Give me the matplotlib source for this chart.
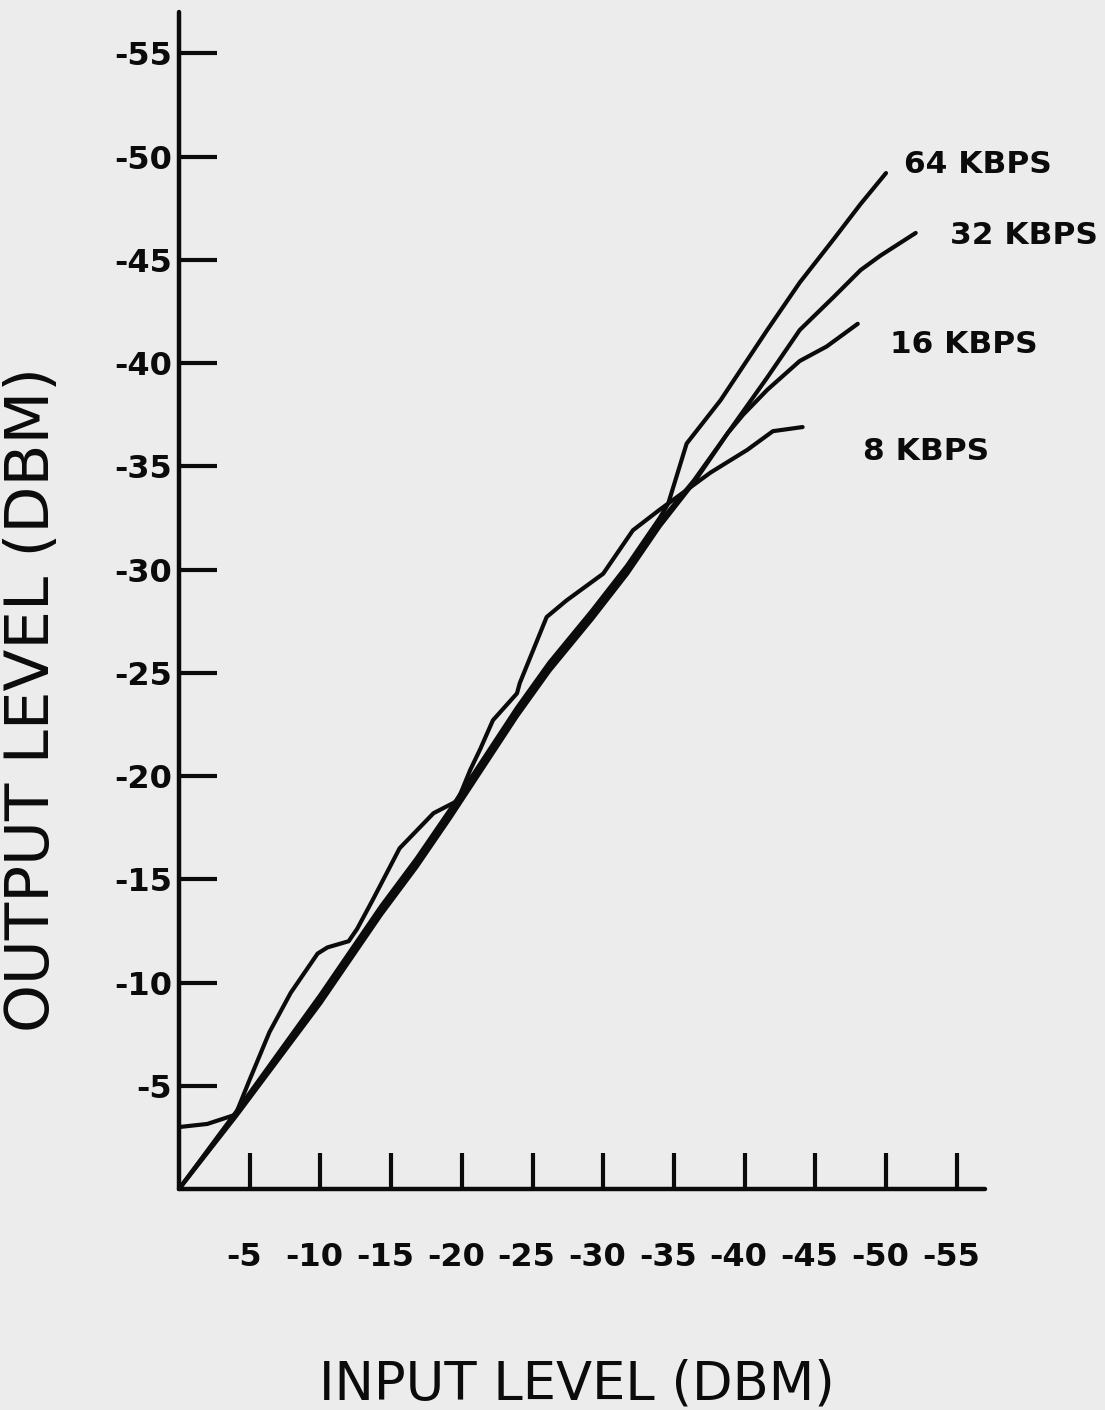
import matplotlib
matplotlib.use("Agg")
import matplotlib.pyplot as plt
from matplotlib.ticker import FixedLocator, NullLocator
from matplotlib.transforms import ScaledTranslation

# ---------------- data (dBm) ----------------
tick_values = [-5, -10, -15, -20, -25, -30, -35, -40, -45, -50, -55]
tick_labels = ["-5", "-10", "-15", "-20", "-25", "-30", "-35", "-40", "-45", "-50", "-55"]

in_64 = [0, -4.0, -10.0, -14.3, -16.8, -19.2, -21.5, -23.9, -26.2, -29.2, -31.7, -34.0,
         -34.6, -35.9, -38.3, -41.6, -43.9, -46.3, -48.2, -50.0]
out_64 = [0, -3.7, -9.4, -13.7, -16.0, -18.4, -20.8, -23.3, -25.5, -28.0, -30.2, -32.5,
          -33.2, -36.1, -38.2, -41.6, -43.9, -46.0, -47.7, -49.2]

in_32 = [0, -4.0, -10.0, -14.3, -16.8, -19.2, -21.5, -23.9, -26.2, -29.2, -31.7, -34.0,
         -36.4, -38.8, -41.6, -43.9, -46.3, -48.2, -49.6, -52.1]
out_32 = [0, -3.6, -9.2, -13.5, -15.8, -18.2, -20.6, -23.1, -25.3, -27.8, -30.0, -32.3,
          -34.3, -36.6, -39.3, -41.6, -43.2, -44.5, -45.2, -46.3]

in_16 = [0, -4.0, -10.0, -14.3, -16.8, -19.2, -21.5, -23.9, -26.2, -29.2, -31.7, -34.0,
         -36.4, -38.8, -39.9, -41.6, -43.9, -45.8, -48.0]
out_16 = [0, -3.5, -9.0, -13.3, -15.6, -18.0, -20.4, -22.9, -25.1, -27.6, -29.8, -32.1,
          -34.2, -36.6, -37.5, -38.7, -40.1, -40.8, -41.9]

in_8 = [0, -2.0, -4.0, -5.0, -6.4, -7.9, -9.8, -10.5, -12.0, -12.6, -13.7, -15.6, -18.0,
        -19.7, -20.6, -21.3, -22.2, -23.9, -24.1, -26.0, -27.4, -30.0, -32.1, -34.0,
        -36.4, -37.6, -40.2, -42.0, -44.1]
out_8 = [-3.0, -3.15, -3.6, -5.3, -7.6, -9.5, -11.4, -11.7, -12.0, -12.6, -14.0, -16.5,
         -18.2, -18.8, -20.3, -21.3, -22.7, -24.0, -24.5, -27.7, -28.5, -29.8, -31.9,
         -32.9, -34.1, -34.7, -35.8, -36.7, -36.9]

series = [
    ("64 KBPS", in_64, out_64),
    ("32 KBPS", in_32, out_32),
    ("16 KBPS", in_16, out_16),
    ("8 KBPS", in_8, out_8),
]

# ---------------- figure ----------------
BG = "#ececec"
INK = "#0b0b0b"

fig = plt.figure(figsize=(11.05, 14.10), dpi=100, facecolor=BG)
ax = fig.add_axes([179 / 1105, 1 - 1189 / 1410, 806 / 1105, 1177 / 1410])
ax.set_facecolor(BG)

for name, xs, ys in series:
    ax.plot(xs, ys, color=INK, lw=3.0, solid_capstyle="round",
            solid_joinstyle="round", clip_on=False)

ax.set_xlim(0, -57)
ax.set_ylim(0, -57)

for s in ("top", "right"):
    ax.spines[s].set_visible(False)
for s in ("left", "bottom"):
    ax.spines[s].set_linewidth(3.2)
    ax.spines[s].set_color(INK)
    ax.spines[s].set_capstyle("round")

ax.xaxis.set_major_locator(FixedLocator(tick_values))
ax.yaxis.set_major_locator(FixedLocator(tick_values))
ax.set_xticklabels(tick_labels)
ax.set_yticklabels(tick_labels)
ax.xaxis.set_minor_locator(NullLocator())
ax.yaxis.set_minor_locator(NullLocator())

ax.tick_params(axis="x", direction="in", length=26, width=3.0, color=INK,
               pad=38, labelsize=23, labelcolor=INK)
ax.tick_params(axis="y", direction="in", length=27, width=3.0, color=INK,
               pad=5, labelsize=23, labelcolor=INK)
shift = ScaledTranslation(-6 / 100, 0, fig.dpi_scale_trans)
for lab in ax.get_xticklabels():
    lab.set_fontweight("bold")
    lab.set_family("DejaVu Sans")
    lab.set_transform(lab.get_transform() + shift)
for lab in ax.get_yticklabels():
    lab.set_fontweight("bold")
    lab.set_family("DejaVu Sans")

# curve labels
label_pos = {
    "64 KBPS": (-51.3, -49.6),
    "32 KBPS": (-54.5, -46.2),
    "16 KBPS": (-50.3, -40.9),
    "8 KBPS": (-48.4, -35.7),
}
for name, xs, ys in series:
    px, py = label_pos[name]
    ax.text(px, py, name, ha="left", va="center", fontsize=22.5,
            fontweight="bold", color=INK, family="DejaVu Sans", clip_on=False)

# axis titles
fig.text(577 / 1105, 1 - 1385 / 1410, "INPUT LEVEL (DBM)", ha="center", va="center",
         fontsize=38, color=INK, family="DejaVu Sans")
fig.text(33 / 1105, 1 - 700 / 1410, "OUTPUT LEVEL (DBM)", ha="center", va="center",
         rotation=90, fontsize=44, color=INK, family="DejaVu Sans")

fig.savefig("out.png", dpi=100, facecolor=BG)
